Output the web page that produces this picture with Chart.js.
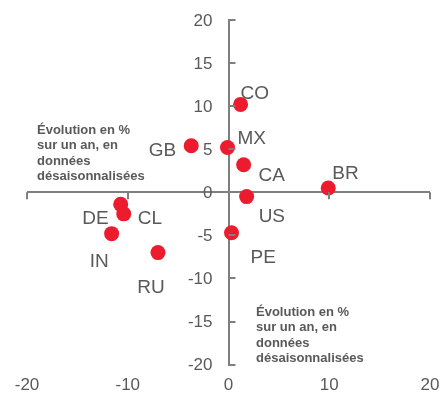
<!DOCTYPE html>
<html lang="fr">
<head>
  <meta charset="UTF-8">
  <title>Nuage de points</title>
  <script src="https://cdn.jsdelivr.net/npm/chart.js"></script>
  <style>
    html, body { margin: 0; padding: 0; background: #fff; }
    #wrap { width: 443px; height: 396px; }
  </style>
</head>
<body>
<div id="wrap"><canvas id="nuage"></canvas></div>
<script>
  // valeurs
  const pays = ['CO', 'GB', 'MX', 'CA', 'BR', 'US', 'DE', 'CL', 'IN', 'RU', 'PE'];
  const evolX = [1.2, -3.7, -0.1, 1.5, 9.9, 1.8, -10.7, -10.4, -11.6, -7.0, 0.3];
  const evolY = [10.2, 5.4, 5.2, 3.2, 0.5, -0.5, -1.4, -2.5, -4.8, -7.0, -4.7];
  const ticksX = [-20, -10, 0, 10, 20];
  const ticksY = [-20, -15, -10, -5, 0, 5, 10, 15, 20];
  const noteTexte = ['Évolution en %', 'sur un an, en', 'données', 'désaisonnalisées'];

  const gris = '#595959';
  const grisAxe = '#7f7f7f';
  const rouge = '#ec1c2e';
  const police = '"Liberation Sans", Arial, sans-serif';

  // décalage des étiquettes par pays : [dx, dy, alignement]
  const posEtiq = {
    CO: [0, -11, 'left'], GB: [-15, 5, 'right'], MX: [10, -9, 'left'],
    CA: [15, 11, 'left'], BR: [4, -14, 'left'], US: [12, 20, 'left'],
    DE: [-12, 14, 'right'], CL: [14, 5, 'left'], IN: [-3, 28, 'right'],
    RU: [-7, 35, 'center'], PE: [19, 25, 'left']
  };

  const extras = {
    id: 'extras',
    afterDraw(chart) {
      const c = chart.ctx;
      const sx = chart.scales.x, sy = chart.scales.y;
      const x0 = sx.getPixelForValue(0), y0 = sy.getPixelForValue(0);
      c.save();
      // petites graduations
      c.strokeStyle = grisAxe;
      c.lineWidth = 2;
      c.beginPath();
      ticksX.forEach(v => {
        if (v === 0) return;
        const px = Math.round(sx.getPixelForValue(v));
        c.moveTo(px, y0); c.lineTo(px, y0 + 7);
      });
      ticksY.forEach(v => {
        const py = Math.round(sy.getPixelForValue(v));
        c.moveTo(x0, py); c.lineTo(x0 + 7, py);
      });
      c.stroke();

      // libellés de l'axe vertical, à gauche de l'axe central
      c.font = '17px ' + police;
      c.fillStyle = gris;
      c.textBaseline = 'middle';
      c.textAlign = 'right';
      sy.ticks.forEach(t => {
        c.fillText(String(t.value), x0 - 16, sy.getPixelForValue(t.value) + 1);
      });

      // étiquettes des pays
      c.font = '19px ' + police;
      const pts = chart.getDatasetMeta(0).data;
      pts.forEach((p, i) => {
        const o = posEtiq[pays[i]];
        c.textAlign = o[2];
        c.fillText(pays[i], p.x + o[0], p.y + o[1]);
      });

      // notes des axes
      c.font = 'bold 13px ' + police;
      c.textAlign = 'left';
      noteTexte.forEach((t, i) => {
        c.fillText(t, 37, 130 + i * 15.6);
        c.fillText(t, 256, 312 + i * 15.6);
      });
      c.restore();
    }
  };

  new Chart(document.getElementById('nuage'), {
    type: 'scatter',
    data: {
      datasets: [{
        data: pays.map((p, i) => ({ x: evolX[i], y: evolY[i] })),
        backgroundColor: rouge,
        borderWidth: 0,
        pointRadius: 7.5,
        pointHoverRadius: 7.5
      }]
    },
    options: {
      responsive: true,
      maintainAspectRatio: false,
      animation: false,
      layout: { padding: { left: 27, right: 13, top: 20, bottom: -11 } },
      plugins: { legend: { display: false }, tooltip: { enabled: false } },
      scales: {
        x: {
          type: 'linear',
          position: 'bottom',
          min: -20, max: 20,
          afterBuildTicks: s => { s.ticks = ticksX.map(v => ({ value: v })); },
          afterFit: s => { s.paddingLeft = 0; s.paddingRight = 0; },
          border: { display: false },
          grid: { drawOnChartArea: false, drawTicks: false },
          ticks: {
            padding: 11,
            color: gris,
            font: { family: police, size: 17 }
          }
        },
        y: {
          type: 'linear',
          position: { x: 0 },
          min: -20, max: 20,
          afterBuildTicks: s => { s.ticks = ticksY.map(v => ({ value: v })); },
          afterFit: s => { s.paddingTop = 0; s.paddingBottom = 0; s.width = 0; },
          border: { display: true, color: grisAxe, width: 2 },
          grid: {
            drawTicks: false,
            lineWidth: 2,
            color: ctx => (ctx.tick && ctx.tick.value === 0) ? grisAxe : 'rgba(0,0,0,0)'
          },
          ticks: { display: false }
        }
      }
    },
    plugins: [extras]
  });
</script>
</body>
</html>
